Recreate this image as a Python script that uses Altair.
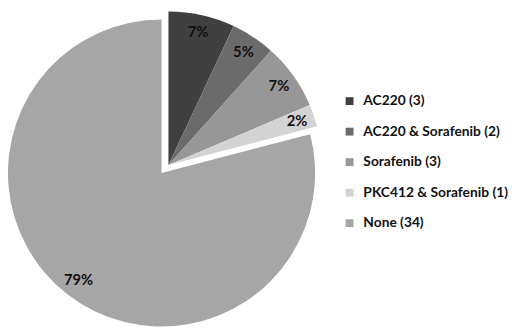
import math
import altair as alt
import pandas as pd

categories = ["AC220 (3)", "AC220 & Sorafenib (2)", "Sorafenib (3)", "PKC412 & Sorafenib (1)", "None (34)"]
counts = [3, 2, 3, 1, 34]
colors = ["#404040", "#6b6b6b", "#979797", "#d3d3d3", "#a6a6a6"]
groups = ["small", "small", "small", "small", "none"]

total = sum(counts)
rows = []
acc = 0
for c, n, g in zip(categories, counts, groups):
    rows.append({
        "label": c,
        "count": n,
        "start": acc,
        "end": acc + n,
        "mid": acc + n / 2,
        "pct": f"{round(n / total * 100)}%",
        "group": g,
    })
    acc += n
df = pd.DataFrame(rows)

theta_scale = alt.Scale(domain=[0, total], range=[0, 2 * math.pi])
color = alt.Color(
    "label:N",
    scale=alt.Scale(domain=categories, range=colors),
    sort=categories,
    title=None,
    legend=alt.Legend(
        orient="none", legendX=340, legendY=85, symbolType="square",
        symbolSize=64, symbolStrokeWidth=0, symbolOpacity=1,
        labelFontSize=14, labelFont="Lato", labelFontWeight="bold",
        labelColor="#111111", rowPadding=17, padding=0, labelOffset=7,
        labelLimit=300,
    ),
)

R = 156
LR = 138
centers = {"small": (163, 157), "none": (156, 165)}

layers = []
for g, (cx, cy) in centers.items():
    sub = alt.Chart(df).transform_filter(alt.datum.group == g)
    arcs = sub.mark_arc(radius=R, strokeWidth=0).encode(
        theta=alt.Theta("start:Q", scale=theta_scale, stack=False),
        theta2="end:Q",
        color=color,
        x=alt.value(cx),
        y=alt.value(cy),
    )
    labels = sub.mark_text(
        radius=LR, fontSize=15, fontWeight="bold", font="Lato", color="#111111"
    ).encode(
        theta=alt.Theta("mid:Q", scale=theta_scale, stack=False),
        text="pct:N",
        x=alt.value(cx),
        y=alt.value(cy),
    )
    layers += [arcs, labels]

chart = alt.layer(*layers).properties(
    width=512, height=327, autosize="none", padding=0
).configure_view(stroke=None)

chart.save("out.html", embed_options={"renderer": "svg", "actions": False})
